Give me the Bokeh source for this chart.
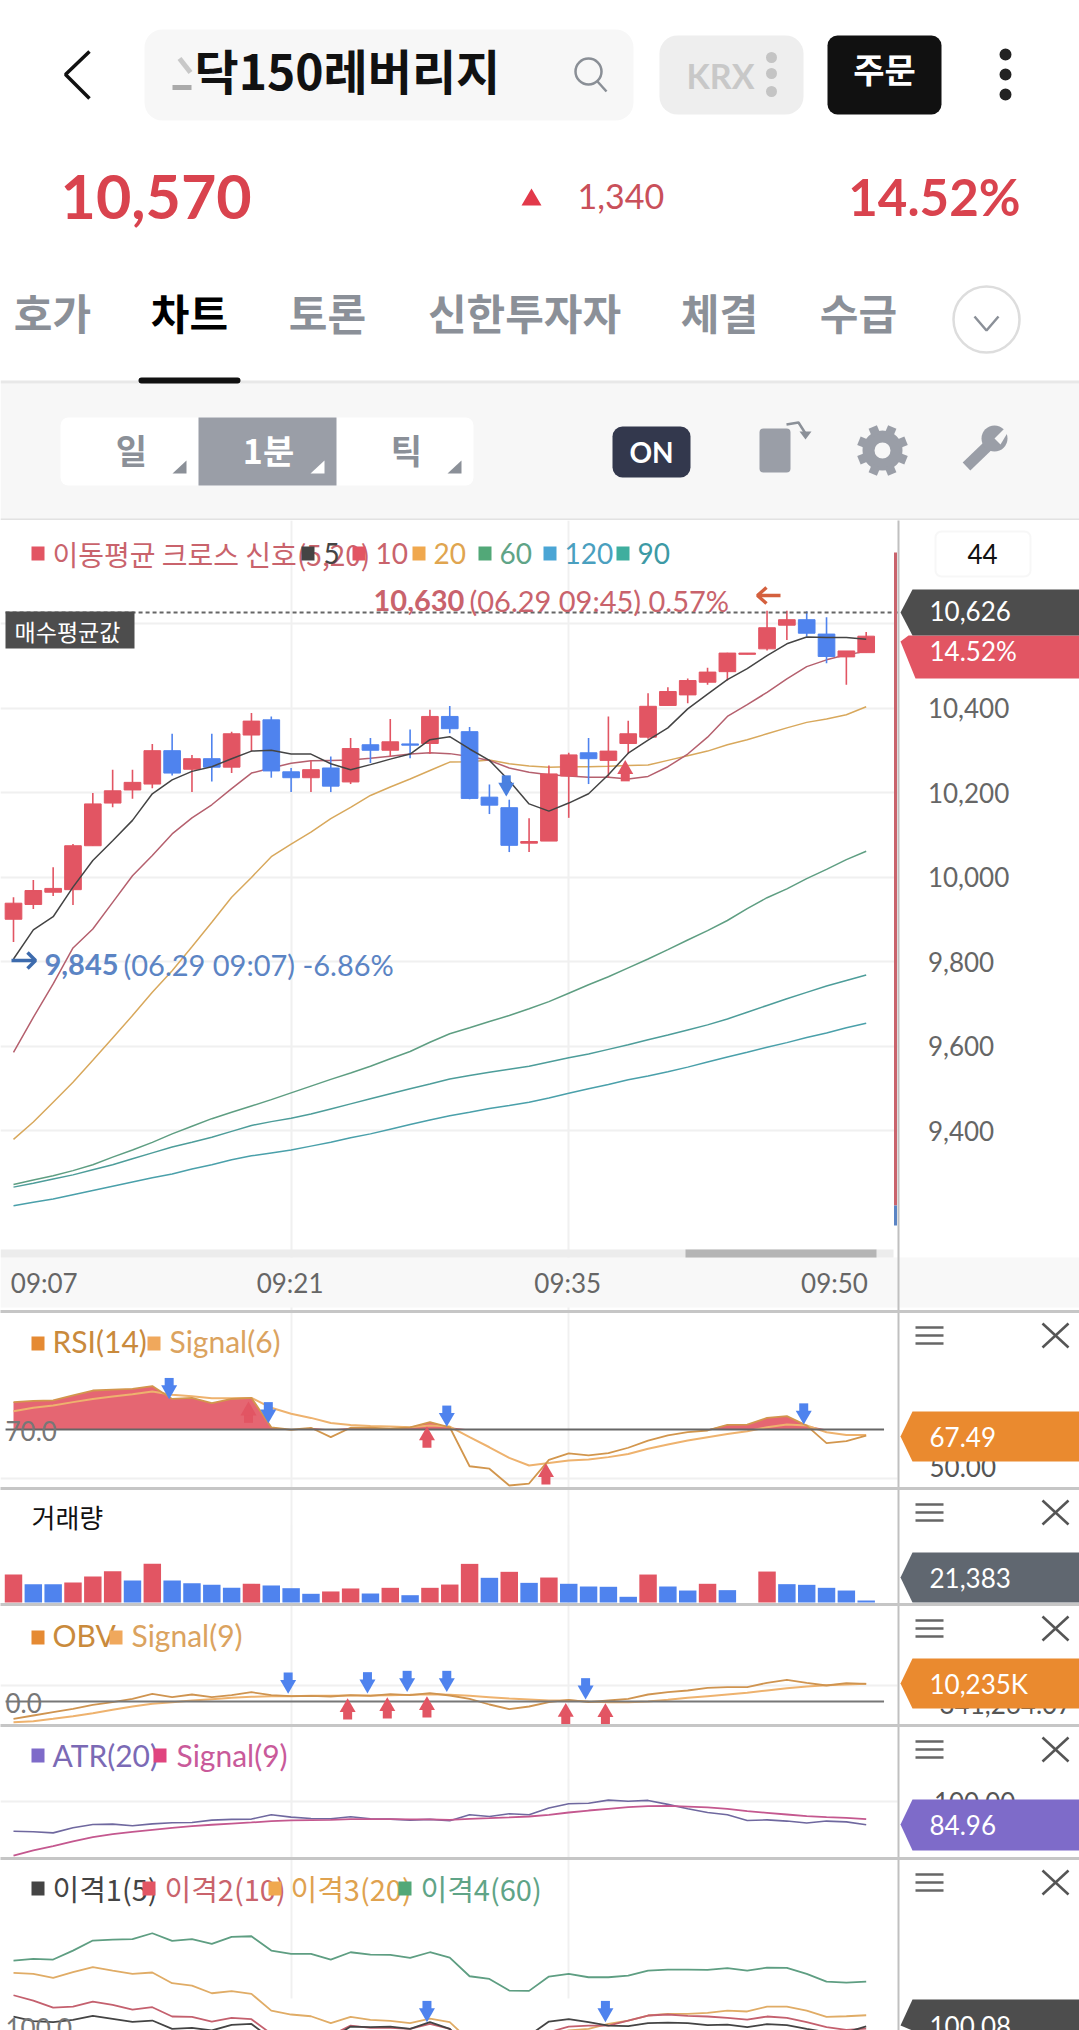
import math
import numpy as np
from bokeh.core.properties import value
from bokeh.embed import file_html
from bokeh.layouts import column
from bokeh.models import (BoxAnnotation, FixedTicker, Grid, LinearAxis,
                          NumeralTickFormatter, Range1d)
from bokeh.plotting import figure
from bokeh.resources import INLINE

# ------------------------------------------------------------------ data
opens = [9900, 9935, 9964, 9970, 10074, 10175, 10206, 10220, 10299, 10255, 10280,
         10260, 10336, 10372, 10249, 10235, 10258, 10225, 10313, 10300, 10315,
         10316, 10380, 10344, 10189, 10164, 10080, 10085, 10239, 10294, 10276,
         10316, 10331, 10406, 10431, 10461, 10486, 10527, 10540, 10596, 10609,
         10575, 10521, 10531]
closes = [9938, 9968, 9973, 10074, 10173, 10204, 10224, 10299, 10246, 10280, 10260,
          10339, 10369, 10251, 10235, 10254, 10215, 10304, 10300, 10320, 10312,
          10380, 10351, 10186, 10170, 10075, 10084, 10244, 10289, 10280, 10298,
          10339, 10404, 10439, 10465, 10485, 10530, 10530, 10590, 10609, 10577,
          10522, 10535, 10570]
highs = [9952, 9993, 10023, 10078, 10199, 10254, 10254, 10315, 10339, 10289, 10339,
         10344, 10388, 10380, 10258, 10276, 10285, 10329, 10329, 10374, 10349,
         10396, 10405, 10355, 10219, 10183, 10139, 10264, 10294, 10329, 10380,
         10370, 10435, 10449, 10470, 10495, 10531, 10530, 10630, 10630, 10629,
         10615, 10535, 10580]
lows = [9846, 9924, 9955, 9934, 10074, 10165, 10185, 10210, 10240, 10201, 10226,
        10246, 10297, 10235, 10201, 10201, 10201, 10220, 10270, 10284, 10281,
        10291, 10340, 10184, 10149, 10059, 10059, 10085, 10140, 10220, 10236,
        10291, 10327, 10406, 10411, 10455, 10465, 10527, 10536, 10561, 10569,
        10506, 10455, 10531]
ma5 = [9806, 9875, 9906, 9976, 10039, 10086, 10134, 10197, 10230, 10250, 10261,
       10280, 10298, 10300, 10291, 10291, 10268, 10254, 10266, 10279, 10291, 10325,
       10332, 10303, 10276, 10228, 10173, 10156, 10175, 10197, 10242, 10293, 10324,
       10353, 10398, 10433, 10467, 10493, 10524, 10552, 10568, 10567, 10567, 10563]
ma10 = [9585, 9668, 9747, 9832, 9877, 9940, 10003, 10051, 10102, 10140, 10171,
        10209, 10246, 10258, 10269, 10275, 10276, 10277, 10281, 10286, 10291, 10294,
        10292, 10285, 10276, 10258, 10248, 10242, 10239, 10236, 10236, 10232, 10238,
        10261, 10291, 10331, 10380, 10408, 10437, 10469, 10498, 10514, 10526, 10534]
ma20 = [9379, 9420, 9467, 9514, 9566, 9619, 9672, 9727, 9778, 9835, 9893, 9952,
        9999, 10048, 10078, 10106, 10138, 10165, 10193, 10213, 10232, 10252, 10272,
        10273, 10277, 10268, 10263, 10260, 10261, 10261, 10262, 10264, 10265, 10276,
        10287, 10298, 10313, 10325, 10339, 10353, 10366, 10374, 10384, 10403]
ma60 = [9272, 9283, 9293, 9305, 9319, 9337, 9354, 9372, 9392, 9410, 9428, 9443,
        9458, 9473, 9489, 9505, 9521, 9536, 9552, 9570, 9587, 9609, 9629, 9643, 9658,
        9672, 9688, 9705, 9725, 9745, 9764, 9785, 9806, 9828, 9851, 9873, 9897, 9925,
        9951, 9972, 9996, 10018, 10041, 10061]
ma90 = [9266, 9275, 9285, 9295, 9307, 9319, 9333, 9347, 9361, 9372, 9384, 9398,
        9412, 9421, 9429, 9439, 9451, 9463, 9475, 9487, 9499, 9510, 9522, 9530, 9538,
        9545, 9552, 9562, 9572, 9581, 9592, 9603, 9615, 9626, 9638, 9650, 9664, 9680,
        9696, 9712, 9727, 9742, 9755, 9768]
ma120 = [9222, 9230, 9238, 9248, 9258, 9268, 9278, 9288, 9297, 9309, 9319, 9331,
         9340, 9347, 9354, 9363, 9372, 9383, 9392, 9403, 9414, 9425, 9435, 9443, 9452,
         9459, 9467, 9477, 9488, 9499, 9509, 9520, 9529, 9539, 9550, 9562, 9574, 9585,
         9597, 9608, 9620, 9631, 9643, 9654]
rsi = [81.1, 81.6, 81.8, 83.8, 85.8, 86.2, 86.5, 87.6, 82.4, 82.8, 80.7, 82.4, 82.8,
       70.9, 69.9, 70.7, 66.9, 70.7, 70.7, 70.3, 70.9, 73.0, 70.9, 55.1, 54.1, 47.3,
       48.1, 57.7, 60.3, 59.5, 60.4, 62.6, 65.5, 67.6, 68.9, 69.6, 71.9, 72.0, 74.7,
       75.4, 71.6, 64.5, 65.3, 67.49]
rsi_signal = [77.4, 78.8, 79.7, 81.1, 82.4, 83.4, 84.3, 85.4, 84.1, 83.5, 82.7, 82.7,
              82.8, 78.8, 76.4, 74.7, 72.6, 71.8, 71.4, 71.2, 70.9, 71.6, 71.2, 66.9,
              62.8, 58.5, 55.4, 56.4, 57.4, 57.8, 58.8, 60.1, 62.2, 63.9, 65.5, 66.9,
              68.2, 69.3, 70.9, 72.0, 71.6, 68.9, 67.8, 67.8]
volumes = [299000, 196000, 196000, 214000, 278000, 335000, 235000, 413000, 235000,
           207000, 189000, 157000, 200000, 182000, 153000, 93000, 118000, 150000,
           96000, 157000, 78000, 157000, 192000, 413000, 264000, 328000, 210000,
           267000, 200000, 171000, 168000, 61000, 299000, 171000, 128000, 200000,
           132000, 0, 331000, 196000, 189000, 157000, 128000, 21383]
volume_up = [1, 0, 0, 1, 1, 1, 0, 1, 0, 0, 0, 0, 1, 0, 0, 0, 1, 1, 0, 1, 0, 1, 1, 1,
             0, 1, 0, 1, 0, 0, 0, 0, 1, 0, 0, 1, 0, 0, 1, 0, 0, 0, 0, 0]
obv = [-10036, -8106, -6176, -4246, -1930, -386, 1544, 4439, 2509, 4053, 2509, 3667,
       5404, 3667, 3088, 3281, 2895, 3667, 3281, 4246, 3667, 4825, 3474, 1544, -1737,
       -4439, -2895, -386, 965, -386, 579, 1544, 4053, 5404, 6369, 7913, 8299, 8299,
       10808, 12545, 10808, 9264, 10615, 10235]
obv_signal = [-11966, -11387, -10036, -8492, -6755, -4825, -2895, -1351, -386, 579,
              1351, 2123, 2702, 3088, 3088, 3281, 3281, 3474, 3474, 3667, 3860, 4246,
              3860, 3281, 2509, 1737, 1158, 579, 579, 0, -386, -386, 0, 965, 2123, 3088,
              4053, 5018, 6369, 7720, 8685, 9457, 9843, 10229]
atr = [80.8, 80.4, 79.7, 83.0, 85.2, 85.4, 84.3, 85.6, 86.3, 86.5, 88.0, 88.5, 88.7,
       91.5, 90.0, 89.1, 88.9, 90.2, 88.9, 88.7, 88.0, 88.5, 87.6, 91.5, 90.4, 92.2,
       91.5, 95.9, 98.7, 99.1, 101.1, 100.4, 100.9, 98.3, 95.4, 93.0, 91.5, 87.8, 88.2,
       87.4, 86.1, 87.4, 86.9, 84.96]
atr_signal = [64.9, 68.2, 71.0, 74.1, 76.9, 78.9, 80.4, 81.7, 83.0, 84.1, 85.0, 85.8,
              86.5, 87.4, 87.8, 88.0, 88.2, 88.7, 88.7, 88.7, 88.5, 88.5, 88.2, 88.9,
              89.3, 89.8, 90.4, 91.5, 93.0, 94.3, 95.4, 96.5, 97.2, 97.4, 96.9, 96.3,
              95.4, 93.9, 92.8, 91.7, 90.6, 90.0, 89.5, 88.7]
disp1 = [101.17, 100.66, 100.55, 100.80, 101.24, 100.91, 100.58, 100.73, 99.82, 99.93,
         99.64, 100.26, 100.36, 98.72, 98.54, 98.36, 98.72, 100.07, 100.0, 100.07, 99.82,
         100.55, 99.82, 97.45, 97.63, 96.35, 99.09, 100.62, 100.88, 100.55, 100.18,
         100.11, 100.44, 100.51, 100.44, 100.22, 100.29, 100.0, 100.33, 100.22, 99.82,
         99.45, 99.45, 100.08]
disp2 = [103.50, 102.92, 102.15, 102.26, 102.81, 102.45, 101.93, 102.19, 101.17, 101.13,
         100.62, 101.02, 100.88, 99.27, 98.91, 98.72, 99.09, 100.18, 99.93, 99.93, 99.82,
         100.36, 99.82, 97.81, 97.45, 96.35, 95.99, 99.45, 100.07, 100.18, 100.18, 100.73,
         101.28, 101.39, 101.24, 101.17, 101.02, 100.84, 101.17, 101.02, 100.55, 100.0,
         99.71, 99.85]
disp3 = [105.95, 105.84, 105.40, 106.02, 106.57, 106.20, 105.84, 105.99, 104.82, 104.56,
         103.72, 103.94, 103.65, 101.82, 101.39, 101.20, 100.44, 101.13, 100.80, 100.69,
         100.44, 100.95, 100.55, 98.54, 98.36, 97.08, 97.08, 99.27, 99.64, 99.82, 100.36,
         100.73, 101.28, 101.46, 101.46, 101.57, 101.82, 101.72, 102.26, 102.26, 101.82,
         101.13, 101.20, 101.31]
disp4 = [107.30, 107.48, 107.41, 108.39, 109.49, 109.60, 109.64, 110.29, 109.45, 109.64,
         109.12, 109.89, 109.96, 108.39, 108.03, 108.03, 107.41, 108.21, 107.96, 107.92,
         107.59, 108.21, 107.63, 105.58, 105.29, 104.01, 103.98, 105.55, 105.84, 105.47,
         105.47, 105.66, 106.20, 106.31, 106.31, 106.28, 106.46, 106.20, 106.53, 106.50,
         105.84, 105.0, 104.89, 105.0]
price_ticks = [9400, 9600, 9800, 10000, 10200, 10400, 10600]
time_labels = ["09:07", "09:21", "09:35", "09:50"]
idx = list(range(44))

# ------------------------------------------------------------------ style
W = 1079
STEP = 19.83
X0 = 13.0
RED, BLUE = "#e25563", "#4f83ee"
GRAY = "#8b9098"
KR, LA = "Noto Sans CJK KR", "Lato"
GRID = "#f0f0f0"
SEP = "#c6c6c6"


def panel(top, bottom, ymin, ymax):
    p = figure(width=W, height=bottom - top, output_backend="svg", toolbar_location=None,
               x_range=Range1d(-X0 / STEP, (W - X0) / STEP), y_range=Range1d(ymin, ymax),
               min_border=0, outline_line_color=None, x_axis_type=None, y_axis_type=None,
               background_fill_color="white", border_fill_color="white")
    p.grid.visible = False
    p.extra_x_ranges = {"px": Range1d(0, W)}
    p.extra_y_ranges = {"py": Range1d(bottom, top)}
    return p


PX = dict(x_range_name="px", y_range_name="py")


def txt(p, x, y, s, size=26, color="#666", font=LA, align="left", style="normal",
        level="glyph", baseline="middle"):
    p.text([x], [y], text=[s], text_font=value(font), text_font_size=f"{size}px",
           text_color=color, text_align=align, text_baseline=baseline,
           text_font_style=style, level=level, **PX)


def rc(p, l, r, t, b, color, level="glyph"):
    p.quad(left=[l], right=[r], top=[t], bottom=[b], fill_color=color, line_color=None,
           level=level, **PX)


def ln(p, xs, ys, color, w=2.0, dash="solid", level="glyph"):
    p.line(xs, ys, line_color=color, line_width=w, line_dash=dash, level=level, **PX)


def vgrid(p):
    p.add_layout(Grid(dimension=0, ticker=FixedTicker(ticks=[14, 28]),
                      grid_line_color=GRID, grid_line_width=2))


def right_col(p, top, bottom):
    rc(p, 897, W, top, bottom, "white")


def sep(p, top, bottom):
    ln(p, [898, 898], [top, bottom], "#c0c0c0", 2, level="overlay")
    ln(p, [0, W], [top + 1, top + 1], SEP, 3, level="overlay")


def tag(p, top, bottom, tip, color, s, size=26, tx=929, dy=0):
    p.patch([912, W, W, 912, 900], [top, top, bottom, bottom, tip], fill_color=color,
            line_color=None, level="overlay", **PX)
    txt(p, tx, tip + dy, s, size, "white", level="overlay")


def legend(p, y, items, size=30, dy=-3):
    for sx, scol, tx, s, tcol, font in items:
        rc(p, sx, sx + 13, y - 7, y + 7, scol)
        txt(p, tx, y + dy, s, size, tcol, font)


def menu(p, y):
    for dy in (-8, 0, 8):
        ln(p, [915, 943], [y + dy, y + dy], "#666", 2.5)
    ln(p, [1042, 1068], [y - 12, y + 12], "#555", 2.5)
    ln(p, [1042, 1068], [y + 12, y - 12], "#555", 2.5)


def arrows(p, xs, tips, up, color, ppu):
    """Block arrows whose tip sits on a data value; ppu = pixels per data unit."""
    sign = 1 if up else -1
    ax = [x - 0.15 for x in xs]
    head = [t - sign * 6 / ppu for t in tips]
    stem = [t - sign * 13 / ppu for t in tips]
    p.rect(ax, stem, width=9, height=10, width_units="screen", height_units="screen",
           fill_color=color, line_color=None, level="overlay")
    p.scatter(ax, head, marker="triangle" if up else "inverted_triangle", size=16,
              fill_color=color, line_color=None, level="overlay")


def rbox(p, l, r, t, b, fill, radius=8, line=None):
    p.add_layout(BoxAnnotation(left=l, right=r, top=t, bottom=b, fill_color=fill,
                               fill_alpha=1, line_color=line, border_radius=radius,
                               level="underlay"))


# ------------------------------------------------------------------ header
h = figure(width=W, height=520, output_backend="svg", toolbar_location=None,
           x_range=Range1d(0, W), y_range=Range1d(520, 0), min_border=0,
           outline_line_color=None, x_axis_type=None, y_axis_type=None,
           background_fill_color="white", border_fill_color="white")
h.grid.visible = False
h.extra_x_ranges = {"px": Range1d(0, W)}
h.extra_y_ranges = {"py": Range1d(520, 0)}
rc(h, 0, W, 383, 520, "#f7f7f7", level="image")
ln(h, [0, W], [381.5, 381.5], "#e8e8e8", 3, level="image")
ln(h, [0, W], [519, 519], "#e2e2e2", 2)
ln(h, [89, 65, 89], [51, 74, 98], "#111", 3.5)
rbox(h, 144, 633, 29, 120, "#f7f7f7", 18)
ln(h, [172, 191], [87, 87], "#aaaaaa", 5)
ln(h, [179, 190], [58, 72], "#c8c8c8", 5)
txt(h, 194, 68, "닥150레버리지", 48, "#111", KR, style="bold")
h.circle([588], [71], radius=13, fill_color=None, line_color="#8a8f96", line_width=2.5, **PX)
ln(h, [597, 606], [81, 91], "#8a8f96", 2.5)
rbox(h, 659, 803, 35, 114, "#eeeeee", 18)
txt(h, 720, 75, "KRX", 34, "#c8c8c8", LA, "center", "bold")
h.scatter([771, 771, 771], [57, 73, 91], size=11, fill_color="#c4c4c4", line_color=None, **PX)
rbox(h, 827, 941, 35, 114, "#111111", 10)
txt(h, 884, 68, "주문", 34, "white", KR, "center", "bold")
h.scatter([1005, 1005, 1005], [54, 74, 94], size=12, fill_color="#222", line_color=None, **PX)
txt(h, 60, 196, "10,570", 61, "#d9434e", LA, style="bold")
h.patch([531, 521, 541], [188, 205, 205], fill_color="#e2394a", line_color=None, **PX)
txt(h, 577, 196, "1,340", 34, "#c9505a")
txt(h, 1020, 196, "14.52%", 51, "#d9434e", LA, "right", "bold")
for s, cx, col in [("호가", 52, GRAY), ("차트", 189, "#000"), ("토론", 327, GRAY),
                   ("신한투자자", 524, GRAY), ("체결", 719, GRAY), ("수급", 858, GRAY)]:
    txt(h, cx, 311, s, 42, col, KR, "center", "bold")
h.circle([986], [319], radius=33, fill_color="white", line_color="#dddddd", line_width=2.5, **PX)
ln(h, [974, 986, 998], [316, 330, 316], GRAY, 2.5)
rbox(h, 138, 240, 377, 383, "#111111", 3)
rbox(h, 60, 473, 417, 485, "white", 8)
rc(h, 198, 336, 417, 485, "#9a9ea7")
txt(h, 131, 449, "일", 34, GRAY, KR, "center", "bold")
txt(h, 268, 449, "1분", 34, "white", KR, "center", "bold")
txt(h, 406, 449, "틱", 34, GRAY, KR, "center", "bold")
for x, col in [(172, GRAY), (310, "white"), (447, GRAY)]:
    h.patch([x, x + 14, x + 14], [473, 460, 473], fill_color=col, line_color=None, **PX)
rbox(h, 612, 690, 426, 477, "#33384d", 10)
txt(h, 651, 451, "ON", 28, "white", LA, "center", "bold")
rbox(h, 759, 790, 428, 472, "#9a9ea7", 4)
h.line([786, 798, 805], [424, 422, 433], line_color=GRAY, line_width=2.5, **PX)
h.patch([799, 811, 805], [431, 431, 439], fill_color=GRAY, line_color=None, **PX)
h.annulus([882], [450], inner_radius=8, outer_radius=20, fill_color="#9a9ea7", line_color=None, **PX)
for k in range(8):
    a = k * math.pi / 4 + math.pi / 8
    h.rect([882 + 21 * math.cos(a)], [450 + 21 * math.sin(a)], width=9, height=9, angle=-a,
           fill_color="#9a9ea7", line_color=None, **PX)
ln(h, [966, 992], [466, 441], "#9a9ea7", 11)
h.circle([994], [438], radius=13, fill_color="#9a9ea7", line_color=None, **PX)
h.patch([994, 1009, 1009, 1000], [438, 423, 429, 444], fill_color="#f7f7f7", line_color=None, **PX)

# ------------------------------------------------------------------ main chart
PPU = 0.4225
main = panel(520, 1310, 10400 - (1310 - 707.5) / PPU, 10400 + (707.5 - 520) / PPU)
main.add_layout(Grid(dimension=1, ticker=FixedTicker(ticks=price_ticks),
                     grid_line_color=GRID, grid_line_width=2))
vgrid(main)
right_col(main, 520, 1310)
rc(main, 0, W, 1257, 1307, "#f8f8f8")
rc(main, 0, 893, 1249, 1257, "#ececec")
rc(main, 685, 876, 1249, 1257, "#b5b5b5")

for ys, col, w in [(ma120, "#4aa0aa", 1.5), (ma90, "#4d9d9a", 1.5), (ma60, "#5e9e82", 1.5),
                   (ma20, "#d8a85c", 1.5), (ma10, "#b5606e", 1.5)]:
    main.line(idx, ys, line_color=col, line_width=w)
colors = [RED if c >= o else BLUE for o, c in zip(opens, closes)]
main.segment(idx, lows, idx, highs, line_color=colors, line_width=1.6)
main.vbar(idx, width=0.84, bottom=[min(a, b) for a, b in zip(opens, closes)],
          top=[max(a, b) for a, b in zip(opens, closes)], fill_color=colors, line_color=colors,
          line_width=1)
main.line(idx, ma5, line_color="#444444", line_width=1.5)
arrows(main, [25], [10198], False, "#4a80e0", PPU)
arrows(main, [31], [10269], True, RED, PPU)
main.segment([-0.4], [10626], [44.6], [10626], line_color="#666", line_width=2, line_dash="4 3")

yaxis = LinearAxis(fixed_location=44.6, ticker=FixedTicker(ticks=price_ticks[:-1]),
                   formatter=NumeralTickFormatter(format="0,0"), axis_line_color=None,
                   major_tick_line_color=None, minor_tick_line_color=None,
                   major_label_standoff=24, major_label_text_font=LA,
                   major_label_text_font_size="26px", major_label_text_color="#666")
main.add_layout(yaxis, "right")
xticks = [1.55, 13.95, 27.95, 41.4]
xaxis = LinearAxis(fixed_location=10400 - (1256 - 707.5) / PPU, ticker=FixedTicker(ticks=xticks),
                   major_label_overrides=dict(zip(xticks, time_labels)), axis_line_color=None,
                   major_tick_line_color=None, minor_tick_line_color=None,
                   major_label_standoff=4, major_label_text_font=LA,
                   major_label_text_font_size="26px", major_label_text_color="#666")
main.add_layout(xaxis, "below")

ln(main, [898, 898], [520, 1310], "#c0c0c0", 2, level="overlay")
ln(main, [895, 895], [552, 1205], "#c9636c", 3, level="overlay")
ln(main, [895, 895], [1205, 1225], "#5b84c4", 3, level="overlay")
legend(main, 553, [
    (31, RED, 52, "이동평균 크로스 신호(5,20)", "#c9636c", KR),
    (301, "#444", 323, "5", "#444", LA),
    (352, RED, 375, "10", "#c9636c", LA),
    (412, "#f0a84e", 433, "20", "#e0a54f", LA),
    (478, "#52a878", 499, "60", "#5fa487", LA),
    (543, "#4aa5d5", 564, "120", "#4aa0bf", LA),
    (616, "#3fae9e", 637, "90", "#3d9aa5", LA),
], size=28, dy=0)
main.add_layout(BoxAnnotation(left=935, right=1030, top=531, bottom=576, fill_color="white",
                              fill_alpha=1, line_color="#e6e6e6", line_width=2, border_radius=6,
                              level="glyph", x_range_name="px", y_range_name="py"))
txt(main, 982, 553, "44", 26, "#111", LA, "center", level="overlay")
txt(main, 373, 600, "10,630", 29, "#c9636c", LA, style="bold")
txt(main, 469, 600, "(06.29 09:45) 0.57%", 29, "#c9636c")
ln(main, [757, 780], [595, 595], "#d4603e", 3.5)
ln(main, [766, 757, 766], [587, 595, 603], "#d4603e", 3.5)
rc(main, 5, 134, 611, 648, "#4d4d4d")
txt(main, 67, 630, "매수평균값", 23, "white", KR, "center")
ln(main, [11, 35], [960, 960], "#3d6bad", 3.5)
ln(main, [27, 35, 27], [952, 960, 968], "#3d6bad", 3.5)
txt(main, 44, 964, "9,845", 29, "#5b84c4", LA, style="bold")
txt(main, 123, 964, "(06.29 09:07) -6.86%", 29, "#5b84c4")
main.patch([908, W, W, 915, 900], [635, 635, 678, 678, 641], fill_color=RED, line_color=None,
           level="overlay", **PX)
txt(main, 929, 650, "14.52%", 26, "white", level="overlay")
tag(main, 589, 635, 612, "#4d4d4d", "10,626", dy=-2)

# ------------------------------------------------------------------ RSI
RSI_PPU = 2.467
pr = panel(1310, 1487, 70 - (1487 - 1429) / RSI_PPU, 70 + (1429 - 1310) / RSI_PPU)
pr.add_layout(Grid(dimension=1, ticker=FixedTicker(ticks=[50]), grid_line_color=GRID,
                   grid_line_width=2))
vgrid(pr)
right_col(pr, 1310, 1487)
ra = np.array(rsi)
pr.varea(idx, y1=[70] * 44, y2=np.maximum(ra, 70).tolist(), fill_color=RED, fill_alpha=0.9)
pr.line(idx, rsi_signal, line_color="#eeb26e", line_width=2)
pr.line(idx, rsi, line_color="#d2964d", line_width=1.8)
pr.segment([-0.4], [70], [43.9], [70], line_color="#666", line_width=2)
txt(pr, 5, 1430, "70.0", 26, "#777")
txt(pr, 929, 1466, "50.00", 26, "#555")
arrows(pr, [8, 13, 22, 40], [83.6, 73.8, 72.4, 73.3], False, "#4f83ee", RSI_PPU)
arrows(pr, [12, 21, 27], [80.0, 69.9, 55.0], True, RED, RSI_PPU)
legend(pr, 1343, [(31, "#e58a33", 52, "RSI(14)", "#c98a3c", LA),
                  (147, "#f0a85c", 169, "Signal(6)", "#dba35f", LA)])
menu(pr, 1335)
sep(pr, 1310, 1487)
tag(pr, 1411, 1461, 1436, "#ea8a2f", "67.49")

# ------------------------------------------------------------------ volume
pv = panel(1487, 1603, -10692, (1602 - 1487) * 10692)
vgrid(pv)
right_col(pv, 1487, 1603)
pv.vbar(idx, width=0.88, bottom=0, top=volumes,
        fill_color=[RED if u else BLUE for u in volume_up], line_color=None)
txt(pv, 31, 1516, "거래량", 26, "#111", KR)
menu(pv, 1512)
sep(pv, 1487, 1603)
tag(pv, 1552, 1602, 1577, "#606770", "21,383")

# ------------------------------------------------------------------ OBV
OBV_PPU = 1 / 579
po = panel(1603, 1724, -(1724 - 1701) * 579, (1701 - 1603) * 579)
po.add_layout(Grid(dimension=1, ticker=FixedTicker(ticks=[9300]), grid_line_color=GRID,
                   grid_line_width=2))
vgrid(po)
right_col(po, 1603, 1724)
po.line(idx, obv_signal, line_color="#eeb26e", line_width=2)
po.line(idx, obv, line_color="#cf9450", line_width=1.8)
po.segment([-0.4], [0], [43.9], [0], line_color="#777", line_width=2)
txt(po, 5, 1702, "0.0", 26, "#777")
txt(po, 939, 1703, "341,264.07", 26, "#555")
arrows(po, [14, 18, 20, 22, 29], [6370, 6563, 7335, 7335, 3088], False, "#4f83ee", OBV_PPU)
arrows(po, [17, 19, 21, 28, 30], [0, 579, 1158, -2702, -2895], True, RED, OBV_PPU)
legend(po, 1637, [(31, "#e58a33", 52, "OBV", "#c98a3c", LA),
                  (109, "#f0a85c", 131, "Signal(9)", "#dba35f", LA)])
menu(po, 1628)
sep(po, 1603, 1724)
tag(po, 1658, 1708, 1683, "#ea8a2f", "10,235K")

# ------------------------------------------------------------------ ATR
pa = panel(1724, 1857, 100 - (1857 - 1801.3) / 1.53, 100 + (1801.3 - 1724) / 1.53)
pa.add_layout(Grid(dimension=1, ticker=FixedTicker(ticks=[100]), grid_line_color=GRID,
                   grid_line_width=2))
vgrid(pa)
right_col(pa, 1724, 1857)
pa.line(idx, atr, line_color="#6f689f", line_width=1.6)
pa.line(idx, atr_signal, line_color="#c4588f", line_width=1.8)
pa.add_layout(LinearAxis(fixed_location=44.6, ticker=FixedTicker(ticks=[100]),
                         major_label_overrides={100: "100.00"}, axis_line_color=None,
                         major_tick_line_color=None, minor_tick_line_color=None,
                         major_label_standoff=30, major_label_text_font=LA,
                         major_label_text_font_size="26px", major_label_text_color="#555"), "right")
legend(pa, 1755, [(31, "#7e6bc9", 52, "ATR(20)", "#7b6ab5", LA),
                  (153, "#e0457f", 176, "Signal(9)", "#c95a9a", LA)], dy=-1)
menu(pa, 1749)
sep(pa, 1724, 1857)
tag(pa, 1799, 1850, 1824, "#7e6bc9", "84.96")

# ------------------------------------------------------------------ disparity
DISP_PPU = 9.13
pd_ = panel(1857, 2030, 100 - (2030 - 2026.7) / DISP_PPU, 100 + (2026.7 - 1857) / DISP_PPU)
vgrid(pd_)
right_col(pd_, 1857, 2030)
rc(pd_, 0, 897, 1998, 2030, "white")
pd_.line(idx, disp4, line_color="#5e9e82", line_width=1.8)
pd_.line(idx, disp3, line_color="#e0ac66", line_width=1.8)
pd_.line(idx, disp2, line_color="#c4606e", line_width=1.8)
pd_.line(idx, disp1, line_color="#444444", line_width=1.8)
arrows(pd_, [21, 30], [100.91, 100.91], False, "#4f83ee", DISP_PPU)
txt(pd_, 5, 2027, "100.0", 26, "#777")
legend(pd_, 1888, [(31, "#444", 52, "이격1(5)", "#444", KR),
                   (142, RED, 164, "이격2(10)", "#c9636c", KR),
                   (268, "#f0a84e", 290, "이격3(20)", "#dfa24f", KR),
                   (398, "#52a878", 420, "이격4(60)", "#5fa487", KR)], size=29, dy=-1)
menu(pd_, 1882)
sep(pd_, 1857, 2030)
tag(pd_, 1999, 2030, 2025, "#4d4d4d", "100.08")

page = column(h, main, pr, pv, po, pa, pd_, spacing=0)
open("out.html", "w").write(file_html(page, INLINE))
